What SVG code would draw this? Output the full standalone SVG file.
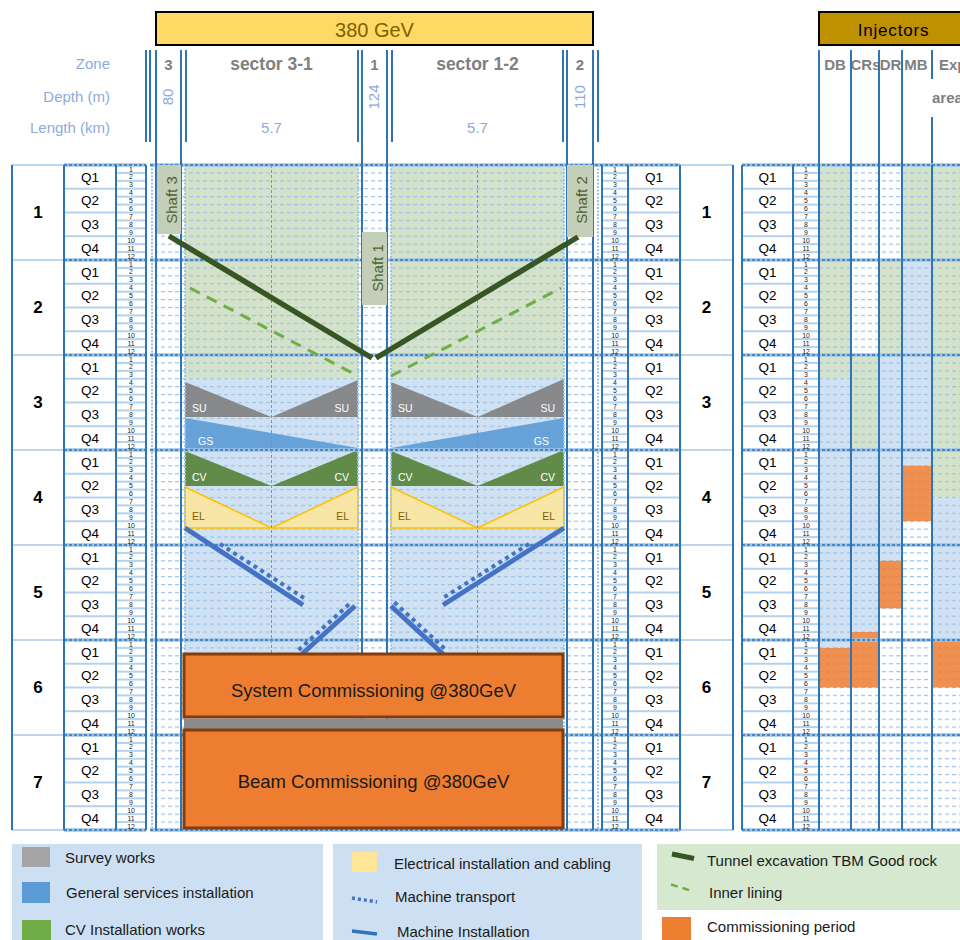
<svg xmlns="http://www.w3.org/2000/svg" width="960" height="940" viewBox="0 0 960 940">
<defs>
<style>
text{font-family:"Liberation Sans",Arial,sans-serif}
.yr{font-weight:bold;font-size:17px;text-anchor:middle;fill:#000}
.q text{font-size:13.5px;text-anchor:middle;fill:#000}
.mn text{font-size:6.9px;text-anchor:middle;fill:#222}
.hl{font-size:15px;fill:#8eaadb;text-anchor:end}
.hz{font-size:15px;fill:#8eaadb;text-anchor:middle}
.hg{font-weight:bold;fill:#808080;text-anchor:middle}
.bl{stroke:#2e75b6;stroke-width:2;fill:none}
.lt{stroke:#9dc3e6;stroke-width:2;stroke-dasharray:2 1.5;fill:none}
.mid{stroke:#5b9bd5;stroke-width:1;stroke-dasharray:3 2;fill:none}
.yb{stroke:#9dc3e6;stroke-width:3.5;fill:none}
.yd{stroke:#2e75b6;stroke-width:1.5;stroke-dasharray:3 2;fill:none}
.ylt{stroke:#bdd7ee;stroke-width:2;fill:none}
.gr{fill:#d3e2c8}
.bu{fill:#cfe1f3}
.or{fill:#ed7d31;fill-opacity:.85}
.su{fill:#7f7f7f;fill-opacity:.9}
.gs{fill:#5b9bd5;fill-opacity:.9}
.cv{fill:#548235;fill-opacity:.9}
.el{fill:#ffe699;fill-opacity:.85;stroke:#ffc000;stroke-width:1.5}
.lw{font-size:10.5px;fill:#fff}
.le{font-size:10.5px;fill:#7f6000}
.tbm{stroke:#375623;stroke-width:5.5;fill:none}
.lin{stroke:#70ad47;stroke-width:3;stroke-dasharray:11 8;fill:none}
.mi{stroke:#4472c4;stroke-width:5;fill:none}
.mt{stroke:#4472c4;stroke-width:4;stroke-dasharray:4 4;fill:none}
.sh{fill:#c4cfba}
.sht{font-size:15px;fill:#4f6228;text-anchor:middle}
.box{fill:#ed7d31;stroke:#843c0c;stroke-width:3}
.bt{font-size:18.5px;fill:#1a1a1a;text-anchor:middle}
.lg{font-size:15px;fill:#1a1a1a}
</style>
<pattern id="pMd" patternUnits="userSpaceOnUse" x="0" y="164.4" width="7" height="7.9167"><rect width="4" height="1.2" fill="#9dc3e6"/></pattern>
<pattern id="pMl" patternUnits="userSpaceOnUse" x="0" y="164" width="20" height="7.9167"><rect width="20" height="2" fill="#b4d2ee"/></pattern>
<pattern id="pQ" patternUnits="userSpaceOnUse" x="0" y="164" width="20" height="23.75"><rect width="20" height="2" fill="#b4d2ee"/></pattern>
</defs>
<rect width="960" height="940" fill="#fff"/>

<g id="header">
<rect x="156" y="12" width="437" height="33" fill="#ffd966" stroke="#000" stroke-width="2"/>
<text x="374.5" y="37" font-size="20" fill="#7f6000" text-anchor="middle">380 GeV</text>
<rect x="819" y="12" width="150" height="33" fill="#bf9000" stroke="#000" stroke-width="2"/>
<text x="893.5" y="36" font-size="17" letter-spacing="0.8" fill="#000" text-anchor="middle">Injectors</text>
<text class="hl" x="110" y="69">Zone</text>
<text class="hl" x="110" y="102">Depth (m)</text>
<text class="hl" x="110" y="133">Length (km)</text>
<text class="hg" x="168.5" y="70" font-size="15">3</text>
<text class="hg" x="271.5" y="70" font-size="17.5">sector 3-1</text>
<text class="hg" x="374.5" y="70" font-size="15">1</text>
<text class="hg" x="477.5" y="70" font-size="17.5">sector 1-2</text>
<text class="hg" x="580" y="70" font-size="15">2</text>
<text class="hz" transform="translate(173,97) rotate(-90)">80</text>
<text class="hz" transform="translate(379,97) rotate(-90)">124</text>
<text class="hz" transform="translate(585,97) rotate(-90)">110</text>
<text class="hz" x="271.5" y="133">5.7</text>
<text class="hz" x="477.5" y="133">5.7</text>
<text class="hg" x="835" y="70" font-size="15">DB</text>
<text class="hg" x="865.5" y="70" font-size="15">CRs</text>
<text class="hg" x="890.5" y="70" font-size="15">DR</text>
<text class="hg" x="916" y="70" font-size="15">MB</text>
<text class="hg" x="939" y="70" font-size="15" style="text-anchor:start">Exp</text>
<text class="hg" x="932" y="103" font-size="15" style="text-anchor:start">area</text>
<path class="bl" d="M146 50V142M150 50V142M186 50V142M358 50V142M392 50V142M563 50V142M598 50V142M932 50V79M932 117V165"/>
</g>

<g id="fills">
<rect class="gr" x="185" y="165" width="173" height="213.75"/>
<rect class="gr" x="391" y="165" width="173" height="213.75"/>
<rect class="bu" x="185" y="378.75" width="173" height="276"/>
<rect class="bu" x="391" y="378.75" width="173" height="276"/>
<rect class="gr" x="819" y="165" width="32" height="213.75"/>
<rect class="bu" x="819" y="378.75" width="32" height="269.15"/>
<rect class="gr" x="851" y="355" width="28" height="95"/>
<rect class="bu" x="851" y="450" width="28" height="182"/>
<rect class="gr" x="879" y="260" width="23" height="95"/>
<rect class="bu" x="879" y="355" width="23" height="205.8"/>
<rect class="gr" x="902" y="165" width="30" height="95"/>
<rect class="bu" x="902" y="260" width="30" height="205.8"/>
<rect class="gr" x="932" y="165" width="28" height="332.5"/>
<rect class="bu" x="932" y="497.5" width="28" height="142.5"/>
</g>

<g id="rules">
<rect x="156" y="165" width="437" height="665" fill="url(#pMd)"/>
<rect x="819" y="165" width="141" height="665" fill="url(#pMd)"/>
<rect x="116" y="165" width="30" height="665" fill="url(#pMl)"/>
<rect x="602" y="165" width="26" height="665" fill="url(#pMl)"/>
<rect x="793" y="165" width="26" height="665" fill="url(#pMl)"/>
<rect x="64" y="165" width="52" height="665" fill="url(#pQ)"/>
<rect x="628" y="165" width="52" height="665" fill="url(#pQ)"/>
<rect x="742" y="165" width="51" height="665" fill="url(#pQ)"/>
</g>

<g id="injector-commissioning">
<rect class="or" x="819" y="647.9" width="32" height="39.6"/>
<rect class="or" x="851" y="632" width="28" height="55.5"/>
<rect class="or" x="879" y="560.8" width="23" height="47.5"/>
<rect class="or" x="902" y="465.8" width="30" height="55.4"/>
<rect class="or" x="932" y="640" width="28" height="47.5"/>
</g>

<g id="works">
<polygon class="su" points="185,382 271.5,417 185,417"/>
<polygon class="su" points="271.5,417 358,380 358,417"/>
<polygon class="su" points="391,382 477.5,417 391,417"/>
<polygon class="su" points="477.5,417 564,379 564,417"/>
<polygon class="gs" points="185,418 358,448 358,450 185,450"/>
<polygon class="gs" points="564,418 391,448 391,450 564,450"/>
<polygon class="cv" points="185,451 271.5,486 185,486"/>
<polygon class="cv" points="271.5,486 358,450 358,486"/>
<polygon class="cv" points="391,451 477.5,486 391,486"/>
<polygon class="cv" points="477.5,486 564,450 564,486"/>
<polygon class="el" points="185,487 271.5,528 185,528"/>
<polygon class="el" points="271.5,528 358,487 358,528"/>
<polygon class="el" points="391,487 477.5,528 391,528"/>
<polygon class="el" points="477.5,528 564,487 564,528"/>
<text class="lw" x="192" y="412">SU</text><text class="lw" x="349" y="412" style="text-anchor:end">SU</text>
<text class="lw" x="398" y="412">SU</text><text class="lw" x="555" y="412" style="text-anchor:end">SU</text>
<text class="lw" x="198" y="445">GS</text><text class="lw" x="549" y="445" style="text-anchor:end">GS</text>
<text class="lw" x="192" y="481">CV</text><text class="lw" x="349" y="481" style="text-anchor:end">CV</text>
<text class="lw" x="398" y="481">CV</text><text class="lw" x="555" y="481" style="text-anchor:end">CV</text>
<text class="le" x="192" y="520">EL</text><text class="le" x="349" y="520" style="text-anchor:end">EL</text>
<text class="le" x="398" y="520">EL</text><text class="le" x="555" y="520" style="text-anchor:end">EL</text>
</g>

<g id="grid-lines">
<path class="lt" d="M152 165V830M185 165V830M358 165V830M391 165V830M564 165V830M598 165V830"/>
<path class="mid" d="M271.5 165V830M477.5 165V830"/>
<path class="ylt" d="M12 165H64M680 165H733M12 260H64M680 260H733M12 355H64M680 355H733M12 450H64M680 450H733M12 545H64M680 545H733M12 640H64M680 640H733M12 735H64M680 735H733M12 830H64M680 830H733"/>
<path class="yb" d="M64 165H146M150 165H680M742 165H960M64 260H146M150 260H680M742 260H960M64 355H146M150 355H680M742 355H960M64 450H146M150 450H680M742 450H960M64 545H146M150 545H680M742 545H960M64 640H146M150 640H680M742 640H960M64 735H146M150 735H680M742 735H960M64 830H146M150 830H680M742 830H960"/>
<path class="yd" d="M64 165H146M150 165H680M742 165H960M64 260H146M150 260H680M742 260H960M64 355H146M150 355H680M742 355H960M64 450H146M150 450H680M742 450H960M64 545H146M150 545H680M742 545H960M64 640H146M150 640H680M742 640H960M64 735H146M150 735H680M742 735H960M64 830H146M150 830H680M742 830H960"/>
<path class="bl" d="M12 165V830M64 165V830M116 165V830M146 165V830M156 50V830M181 50V830M362 50V830M387 50V830M567 50V830M593 50V830M602 165V830M628 165V830M680 165V830M733 165V830M742 165V830M793 165V830M819 50V830M851 50V830M879 50V830M902 50V830M932 165V830"/>
</g>

<g id="shafts">
<rect class="sh" x="157" y="165" width="24" height="69"/>
<text class="sht" transform="translate(177,200) rotate(-90)">Shaft 3</text>
<rect class="sh" x="362" y="232" width="25" height="73"/>
<text class="sht" transform="translate(383,268) rotate(-90)">Shaft 1</text>
<rect class="sh" x="567" y="165" width="26" height="72"/>
<text class="sht" transform="translate(587,200) rotate(-90)">Shaft 2</text>
</g>

<g id="connectors">
<line class="tbm" x1="169" y1="236" x2="372" y2="358"/>
<line class="tbm" x1="376" y1="358" x2="578" y2="237"/>
<line class="lin" x1="190" y1="288" x2="358" y2="376"/>
<line class="lin" x1="391" y1="376" x2="561" y2="288"/>
<line class="mi" x1="185" y1="528" x2="303" y2="605"/>
<line class="mt" x1="220" y1="544" x2="304" y2="598"/>
<line class="mi" x1="302" y1="654" x2="355" y2="606"/>
<line class="mt" x1="298.6" y1="650" x2="351.6" y2="602"/>
<line class="mi" x1="564" y1="528" x2="443" y2="605"/>
<line class="mt" x1="529" y1="544" x2="443" y2="598"/>
<line class="mi" x1="391" y1="606" x2="443" y2="654"/>
<line class="mt" x1="394.4" y1="602.3" x2="446.4" y2="650.3"/>
</g>

<g id="commissioning">
<rect class="box" x="184" y="654" width="379" height="63"/>
<text class="bt" x="373.5" y="697">System Commissioning @380GeV</text>
<rect x="184" y="718.5" width="379" height="11" fill="#8c8c8c"/>
<rect class="box" x="184" y="730" width="379" height="98"/>
<text class="bt" x="373.5" y="788">Beam Commissioning @380GeV</text>
</g>

<g id="year1" transform="translate(0,165)">
<text class="yr" x="38" y="53">1</text>
<g class="q" transform="translate(90)"><text y="16.6">Q1</text><text y="40.3">Q2</text><text y="64.1">Q3</text><text y="87.8">Q4</text></g>
<g class="mn" transform="translate(131)"><text y="6.5">1</text><text y="14.4">2</text><text y="22.3">3</text><text y="30.2">4</text><text y="38.1">5</text><text y="46">6</text><text y="54">7</text><text y="61.9">8</text><text y="69.8">9</text><text y="77.7">10</text><text y="85.6">11</text><text y="93.5">12</text></g>
<g class="mn" transform="translate(615)"><text y="6.5">1</text><text y="14.4">2</text><text y="22.3">3</text><text y="30.2">4</text><text y="38.1">5</text><text y="46">6</text><text y="54">7</text><text y="61.9">8</text><text y="69.8">9</text><text y="77.7">10</text><text y="85.6">11</text><text y="93.5">12</text></g>
<g class="q" transform="translate(654)"><text y="16.6">Q1</text><text y="40.3">Q2</text><text y="64.1">Q3</text><text y="87.8">Q4</text></g>
<text class="yr" x="706.5" y="53">1</text>
<g class="q" transform="translate(767.5)"><text y="16.6">Q1</text><text y="40.3">Q2</text><text y="64.1">Q3</text><text y="87.8">Q4</text></g>
<g class="mn" transform="translate(806)"><text y="6.5">1</text><text y="14.4">2</text><text y="22.3">3</text><text y="30.2">4</text><text y="38.1">5</text><text y="46">6</text><text y="54">7</text><text y="61.9">8</text><text y="69.8">9</text><text y="77.7">10</text><text y="85.6">11</text><text y="93.5">12</text></g>
</g>

<g id="year2" transform="translate(0,260)">
<text class="yr" x="38" y="53">2</text>
<g class="q" transform="translate(90)"><text y="16.6">Q1</text><text y="40.3">Q2</text><text y="64.1">Q3</text><text y="87.8">Q4</text></g>
<g class="mn" transform="translate(131)"><text y="6.5">1</text><text y="14.4">2</text><text y="22.3">3</text><text y="30.2">4</text><text y="38.1">5</text><text y="46">6</text><text y="54">7</text><text y="61.9">8</text><text y="69.8">9</text><text y="77.7">10</text><text y="85.6">11</text><text y="93.5">12</text></g>
<g class="mn" transform="translate(615)"><text y="6.5">1</text><text y="14.4">2</text><text y="22.3">3</text><text y="30.2">4</text><text y="38.1">5</text><text y="46">6</text><text y="54">7</text><text y="61.9">8</text><text y="69.8">9</text><text y="77.7">10</text><text y="85.6">11</text><text y="93.5">12</text></g>
<g class="q" transform="translate(654)"><text y="16.6">Q1</text><text y="40.3">Q2</text><text y="64.1">Q3</text><text y="87.8">Q4</text></g>
<text class="yr" x="706.5" y="53">2</text>
<g class="q" transform="translate(767.5)"><text y="16.6">Q1</text><text y="40.3">Q2</text><text y="64.1">Q3</text><text y="87.8">Q4</text></g>
<g class="mn" transform="translate(806)"><text y="6.5">1</text><text y="14.4">2</text><text y="22.3">3</text><text y="30.2">4</text><text y="38.1">5</text><text y="46">6</text><text y="54">7</text><text y="61.9">8</text><text y="69.8">9</text><text y="77.7">10</text><text y="85.6">11</text><text y="93.5">12</text></g>
</g>

<g id="year3" transform="translate(0,355)">
<text class="yr" x="38" y="53">3</text>
<g class="q" transform="translate(90)"><text y="16.6">Q1</text><text y="40.3">Q2</text><text y="64.1">Q3</text><text y="87.8">Q4</text></g>
<g class="mn" transform="translate(131)"><text y="6.5">1</text><text y="14.4">2</text><text y="22.3">3</text><text y="30.2">4</text><text y="38.1">5</text><text y="46">6</text><text y="54">7</text><text y="61.9">8</text><text y="69.8">9</text><text y="77.7">10</text><text y="85.6">11</text><text y="93.5">12</text></g>
<g class="mn" transform="translate(615)"><text y="6.5">1</text><text y="14.4">2</text><text y="22.3">3</text><text y="30.2">4</text><text y="38.1">5</text><text y="46">6</text><text y="54">7</text><text y="61.9">8</text><text y="69.8">9</text><text y="77.7">10</text><text y="85.6">11</text><text y="93.5">12</text></g>
<g class="q" transform="translate(654)"><text y="16.6">Q1</text><text y="40.3">Q2</text><text y="64.1">Q3</text><text y="87.8">Q4</text></g>
<text class="yr" x="706.5" y="53">3</text>
<g class="q" transform="translate(767.5)"><text y="16.6">Q1</text><text y="40.3">Q2</text><text y="64.1">Q3</text><text y="87.8">Q4</text></g>
<g class="mn" transform="translate(806)"><text y="6.5">1</text><text y="14.4">2</text><text y="22.3">3</text><text y="30.2">4</text><text y="38.1">5</text><text y="46">6</text><text y="54">7</text><text y="61.9">8</text><text y="69.8">9</text><text y="77.7">10</text><text y="85.6">11</text><text y="93.5">12</text></g>
</g>

<g id="year4" transform="translate(0,450)">
<text class="yr" x="38" y="53">4</text>
<g class="q" transform="translate(90)"><text y="16.6">Q1</text><text y="40.3">Q2</text><text y="64.1">Q3</text><text y="87.8">Q4</text></g>
<g class="mn" transform="translate(131)"><text y="6.5">1</text><text y="14.4">2</text><text y="22.3">3</text><text y="30.2">4</text><text y="38.1">5</text><text y="46">6</text><text y="54">7</text><text y="61.9">8</text><text y="69.8">9</text><text y="77.7">10</text><text y="85.6">11</text><text y="93.5">12</text></g>
<g class="mn" transform="translate(615)"><text y="6.5">1</text><text y="14.4">2</text><text y="22.3">3</text><text y="30.2">4</text><text y="38.1">5</text><text y="46">6</text><text y="54">7</text><text y="61.9">8</text><text y="69.8">9</text><text y="77.7">10</text><text y="85.6">11</text><text y="93.5">12</text></g>
<g class="q" transform="translate(654)"><text y="16.6">Q1</text><text y="40.3">Q2</text><text y="64.1">Q3</text><text y="87.8">Q4</text></g>
<text class="yr" x="706.5" y="53">4</text>
<g class="q" transform="translate(767.5)"><text y="16.6">Q1</text><text y="40.3">Q2</text><text y="64.1">Q3</text><text y="87.8">Q4</text></g>
<g class="mn" transform="translate(806)"><text y="6.5">1</text><text y="14.4">2</text><text y="22.3">3</text><text y="30.2">4</text><text y="38.1">5</text><text y="46">6</text><text y="54">7</text><text y="61.9">8</text><text y="69.8">9</text><text y="77.7">10</text><text y="85.6">11</text><text y="93.5">12</text></g>
</g>

<g id="year5" transform="translate(0,545)">
<text class="yr" x="38" y="53">5</text>
<g class="q" transform="translate(90)"><text y="16.6">Q1</text><text y="40.3">Q2</text><text y="64.1">Q3</text><text y="87.8">Q4</text></g>
<g class="mn" transform="translate(131)"><text y="6.5">1</text><text y="14.4">2</text><text y="22.3">3</text><text y="30.2">4</text><text y="38.1">5</text><text y="46">6</text><text y="54">7</text><text y="61.9">8</text><text y="69.8">9</text><text y="77.7">10</text><text y="85.6">11</text><text y="93.5">12</text></g>
<g class="mn" transform="translate(615)"><text y="6.5">1</text><text y="14.4">2</text><text y="22.3">3</text><text y="30.2">4</text><text y="38.1">5</text><text y="46">6</text><text y="54">7</text><text y="61.9">8</text><text y="69.8">9</text><text y="77.7">10</text><text y="85.6">11</text><text y="93.5">12</text></g>
<g class="q" transform="translate(654)"><text y="16.6">Q1</text><text y="40.3">Q2</text><text y="64.1">Q3</text><text y="87.8">Q4</text></g>
<text class="yr" x="706.5" y="53">5</text>
<g class="q" transform="translate(767.5)"><text y="16.6">Q1</text><text y="40.3">Q2</text><text y="64.1">Q3</text><text y="87.8">Q4</text></g>
<g class="mn" transform="translate(806)"><text y="6.5">1</text><text y="14.4">2</text><text y="22.3">3</text><text y="30.2">4</text><text y="38.1">5</text><text y="46">6</text><text y="54">7</text><text y="61.9">8</text><text y="69.8">9</text><text y="77.7">10</text><text y="85.6">11</text><text y="93.5">12</text></g>
</g>

<g id="year6" transform="translate(0,640)">
<text class="yr" x="38" y="53">6</text>
<g class="q" transform="translate(90)"><text y="16.6">Q1</text><text y="40.3">Q2</text><text y="64.1">Q3</text><text y="87.8">Q4</text></g>
<g class="mn" transform="translate(131)"><text y="6.5">1</text><text y="14.4">2</text><text y="22.3">3</text><text y="30.2">4</text><text y="38.1">5</text><text y="46">6</text><text y="54">7</text><text y="61.9">8</text><text y="69.8">9</text><text y="77.7">10</text><text y="85.6">11</text><text y="93.5">12</text></g>
<g class="mn" transform="translate(615)"><text y="6.5">1</text><text y="14.4">2</text><text y="22.3">3</text><text y="30.2">4</text><text y="38.1">5</text><text y="46">6</text><text y="54">7</text><text y="61.9">8</text><text y="69.8">9</text><text y="77.7">10</text><text y="85.6">11</text><text y="93.5">12</text></g>
<g class="q" transform="translate(654)"><text y="16.6">Q1</text><text y="40.3">Q2</text><text y="64.1">Q3</text><text y="87.8">Q4</text></g>
<text class="yr" x="706.5" y="53">6</text>
<g class="q" transform="translate(767.5)"><text y="16.6">Q1</text><text y="40.3">Q2</text><text y="64.1">Q3</text><text y="87.8">Q4</text></g>
<g class="mn" transform="translate(806)"><text y="6.5">1</text><text y="14.4">2</text><text y="22.3">3</text><text y="30.2">4</text><text y="38.1">5</text><text y="46">6</text><text y="54">7</text><text y="61.9">8</text><text y="69.8">9</text><text y="77.7">10</text><text y="85.6">11</text><text y="93.5">12</text></g>
</g>

<g id="year7" transform="translate(0,735)">
<text class="yr" x="38" y="53">7</text>
<g class="q" transform="translate(90)"><text y="16.6">Q1</text><text y="40.3">Q2</text><text y="64.1">Q3</text><text y="87.8">Q4</text></g>
<g class="mn" transform="translate(131)"><text y="6.5">1</text><text y="14.4">2</text><text y="22.3">3</text><text y="30.2">4</text><text y="38.1">5</text><text y="46">6</text><text y="54">7</text><text y="61.9">8</text><text y="69.8">9</text><text y="77.7">10</text><text y="85.6">11</text><text y="93.5">12</text></g>
<g class="mn" transform="translate(615)"><text y="6.5">1</text><text y="14.4">2</text><text y="22.3">3</text><text y="30.2">4</text><text y="38.1">5</text><text y="46">6</text><text y="54">7</text><text y="61.9">8</text><text y="69.8">9</text><text y="77.7">10</text><text y="85.6">11</text><text y="93.5">12</text></g>
<g class="q" transform="translate(654)"><text y="16.6">Q1</text><text y="40.3">Q2</text><text y="64.1">Q3</text><text y="87.8">Q4</text></g>
<text class="yr" x="706.5" y="53">7</text>
<g class="q" transform="translate(767.5)"><text y="16.6">Q1</text><text y="40.3">Q2</text><text y="64.1">Q3</text><text y="87.8">Q4</text></g>
<g class="mn" transform="translate(806)"><text y="6.5">1</text><text y="14.4">2</text><text y="22.3">3</text><text y="30.2">4</text><text y="38.1">5</text><text y="46">6</text><text y="54">7</text><text y="61.9">8</text><text y="69.8">9</text><text y="77.7">10</text><text y="85.6">11</text><text y="93.5">12</text></g>
</g>

<g id="legend">
<rect x="12" y="844" width="311" height="96" fill="#cddff2"/>
<rect x="22" y="847" width="28" height="20" fill="#a5a5a5"/>
<text class="lg" x="65" y="863">Survey works</text>
<rect x="22" y="882" width="28" height="21" fill="#5b9bd5"/>
<text class="lg" x="66" y="898">General services installation</text>
<rect x="22" y="920" width="29" height="20" fill="#70ad47"/>
<text class="lg" x="65" y="935">CV Installation works</text>
<rect x="333" y="844" width="309" height="96" fill="#cddff2"/>
<rect x="352" y="852" width="25" height="20" fill="#ffe699"/>
<text class="lg" x="394" y="869">Electrical installation and cabling</text>
<line x1="352" y1="898" x2="377" y2="902" stroke="#4472c4" stroke-width="3.5" stroke-dasharray="3 3"/>
<text class="lg" x="395" y="902">Machine transport</text>
<line x1="352" y1="931" x2="377" y2="934" stroke="#2e75b6" stroke-width="3.5"/>
<text class="lg" x="397" y="937">Machine Installation</text>
<rect x="657" y="844" width="303" height="66" fill="#d6e8cf"/>
<line x1="672" y1="854" x2="694" y2="858.5" stroke="#375623" stroke-width="5"/>
<text class="lg" x="707" y="866">Tunnel excavation TBM Good rock</text>
<line x1="671" y1="884.5" x2="692" y2="891" stroke="#70ad47" stroke-width="2.5" stroke-dasharray="7 5"/>
<text class="lg" x="709" y="898">Inner lining</text>
<rect x="662" y="917" width="29" height="23" fill="#ed7d31"/>
<text class="lg" x="707" y="932">Commissioning period</text>
</g>
</svg>
